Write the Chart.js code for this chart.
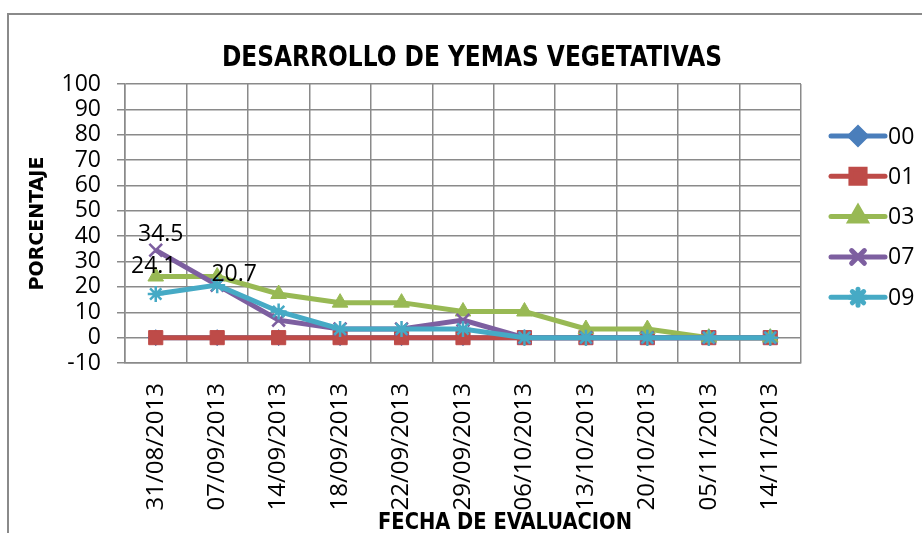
<!DOCTYPE html>
<html>
<head>
<meta charset="utf-8">
<script src="https://cdn.jsdelivr.net/npm/chart.js@4.4.1/dist/chart.umd.min.js"></script>
<style>
  html, body { margin:0; padding:0; background:#fff; }
  #wrap { position:relative; width:922px; height:533px; overflow:hidden; }
  #frame { position:absolute; left:7px; top:13px; width:940px; height:540px;
           border:2px solid #8a8a8a; box-sizing:border-box; }
  canvas { position:absolute; left:0; top:0; }
</style>
</head>
<body>
<div id="wrap">
  <div id="frame"></div>
  <canvas id="graf" width="922" height="533"></canvas>
</div>
<script>
// ---------- datos ----------
const fechas = ['31/08/2013','07/09/2013','14/09/2013','18/09/2013','22/09/2013','29/09/2013',
                '06/10/2013','13/10/2013','20/10/2013','05/11/2013','14/11/2013'];

const serie00 = [0, 0, 0, 0, 0, 0, 0, 0, 0, 0, 0];
const serie01 = [0, 0, 0, 0, 0, 0, 0, 0, 0, 0, 0];
const serie03 = [24.1, 24.1, 17.2, 13.8, 13.8, 10.3, 10.3, 3.4, 3.4, 0, 0];
const serie07 = [34.5, 20.7, 6.9, 3.4, 3.4, 6.9, 0, 0, 0, 0, 0];
const serie09 = [17.2, 20.7, 10.3, 3.4, 3.4, 3.4, 0, 0, 0, 0, 0];

const nombres = ['00', '01', '03', '07', '09'];
const yTicks  = { min:-10, max:100, step:10 };

// etiquetas de datos visibles en el original: [serie, punto]
const etiquetas = [[3, 0], [2, 0], [4, 1]];

const TITULO   = 'DESARROLLO DE YEMAS VEGETATIVAS';
const TITULO_X = 'FECHA DE EVALUACION';
const TITULO_Y = 'PORCENTAJE';

// ---------- estilos ----------
const COLORES = ['#4a7ebb', '#be4b48', '#98b954', '#7d5fa0', '#46aac5'];
const MARCAS  = ['rectRot', 'rect', 'triangle', 'crossRot', 'star'];
const RADIOS  = [8, 10, 9, 9, 8];
const GRIS = '#8a8a8a';
const FNT  = '"Open Sans", "Liberation Sans", sans-serif';
const FNTB = '"Liberation Sans", Arial, sans-serif';
const FNTT = '"DejaVu Sans", "Liberation Sans", sans-serif';

const series = [serie00, serie01, serie03, serie07, serie09];

const datasets = series.map((d, i) => ({
  label: nombres[i],
  data: d,
  borderColor: COLORES[i],
  backgroundColor: COLORES[i],
  borderWidth: 5,
  pointStyle: MARCAS[i],
  pointRadius: RADIOS[i],
  pointHoverRadius: RADIOS[i],
  pointBackgroundColor: COLORES[i],
  pointBorderColor: COLORES[i],
  pointBorderWidth: (MARCAS[i] === 'crossRot' || MARCAS[i] === 'star') ? 2.5 : 1,
  tension: 0,
  order: series.length - i     // la última serie queda encima, como en Excel
}));

// texto comprimido horizontalmente a un ancho dado
function textoAncho(ctx, txt, x, y, ancho){
  ctx.save();
  ctx.translate(x, y);
  const w = ctx.measureText(txt).width;
  ctx.scale(ancho / w, 1);
  ctx.textAlign = 'center';
  ctx.fillText(txt, 0, 0);
  ctx.restore();
}

const extras = {
  id: 'extras',
  afterDraw(chart){
    const ctx = chart.ctx;
    const xs = chart.scales.x, ys = chart.scales.y;

    // títulos
    ctx.save();
    ctx.fillStyle = '#000';
    ctx.textBaseline = 'alphabetic';
    ctx.font = 'bold 29px ' + FNTT;
    textoAncho(ctx, TITULO, 472, 66, 500);
    ctx.font = 'bold 23px ' + FNTT;
    textoAncho(ctx, TITULO_X, 505, 529, 254);
    ctx.restore();

    // etiquetas de datos
    ctx.save();
    ctx.font = '23px ' + FNT;
    ctx.fillStyle = '#000';
    ctx.textAlign = 'center';
    ctx.textBaseline = 'middle';
    const desplaz = [[5, -16], [-2, -10], [17, -11]];
    etiquetas.forEach(([s, p], k) => {
      const v = series[s][p];
      const px = xs.getPixelForValue(p), py = ys.getPixelForValue(v);
      ctx.fillText(v.toFixed(1), px + desplaz[k][0], py + desplaz[k][1]);
    });
    ctx.restore();

    // leyenda
    ctx.save();
    const lx0 = 831, lx1 = 885, ly0 = 136, paso = 40.3;
    nombres.forEach((n, i) => {
      const y = ly0 + i * paso;
      ctx.strokeStyle = COLORES[i];
      ctx.lineWidth = 5;
      ctx.lineCap = 'round';
      ctx.beginPath(); ctx.moveTo(lx0, y); ctx.lineTo(lx1, y); ctx.stroke();
      ctx.fillStyle = COLORES[i];
      Chart.helpers.drawPoint(ctx, {
        pointStyle: MARCAS[i], radius: RADIOS[i], rotation: 0,
        borderWidth: datasets[i].pointBorderWidth
      }, (lx0 + lx1) / 2, y);
      ctx.fillStyle = '#000';
      ctx.font = '23px ' + FNT;
      ctx.textAlign = 'left';
      ctx.textBaseline = 'middle';
      ctx.fillText(n, 888, y + 1);
    });
    ctx.restore();
  }
};

new Chart(document.getElementById('graf'), {
  type: 'line',
  data: { labels: fechas, datasets },
  options: {
    responsive: false,
    animation: false,
    layout: { padding: { left:0, right:121, top:84, bottom:0 } },
    plugins: { legend:{ display:false }, title:{ display:false }, tooltip:{ enabled:false } },
    scales: {
      x: {
        type: 'category',
        offset: true,
        grid: { offset:true, color:GRIS, lineWidth:1.5, drawTicks:false },
        border: { color:GRIS, width:1.5 },
        ticks: { font:{ family:FNT, size:24 }, color:'#000', padding:20,
                 minRotation:90, maxRotation:90, autoSkip:false },
        afterFit(s){ s.height = 170; }
      },
      y: {
        min: yTicks.min, max: yTicks.max,
        grid: { color:GRIS, lineWidth:1.5, tickLength:8 },
        border: { color:GRIS, width:1.5 },
        ticks: { stepSize:yTicks.step, font:{ family:FNT, size:23 }, color:'#000', padding:16,
                 autoSkip:false },
        title: { display:true, text:TITULO_Y, color:'#000',
                 font:{ family:FNTT, size:19, weight:'bold' }, padding:{ top:27, bottom:0 } },
        afterFit(s){ s.width = 125; }
      }
    }
  },
  plugins: [extras]
});
</script>
</body>
</html>
